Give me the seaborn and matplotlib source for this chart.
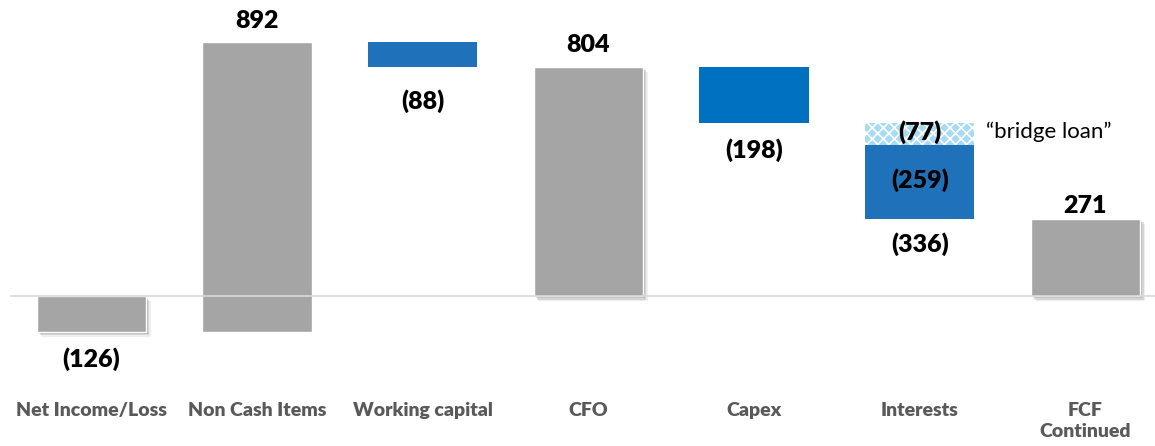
import matplotlib
matplotlib.use("Agg")
import matplotlib.pyplot as plt
import matplotlib.patheffects as pe
import seaborn as sns
import pandas as pd
import numpy as np

# ---- data ----
categories = ["Net Income/Loss", "Non Cash Items", "Working capital", "CFO",
              "Capex", "Interests", "FCF\nContinued"]
net_income = -126
non_cash = 892
working_capital = -88
cfo = 804
capex = -198
interests_bridge = -77
interests_other = -259
interests_total = -336
fcf = 271

# ---- bar geometry from values ----
lows = [net_income, net_income, cfo, 0, cfo + capex,
        cfo + capex + interests_total, 0]
highs = [0, non_cash, non_cash, cfo, cfo,
         cfo + capex + interests_bridge, fcf]
df = pd.DataFrame({"cat": categories, "low": lows,
                   "height": np.array(highs) - np.array(lows)})

sns.set_theme(style="white")
plt.rcParams["font.family"] = ["Lato", "DejaVu Sans"]
plt.rcParams["hatch.linewidth"] = 1.2

fig = plt.figure(figsize=(11.55, 4.46), dpi=100)
ax = fig.add_axes([10 / 1155, 0, 1 - 10 / 1155, 1])

grey = "#A5A5A5"
colors = [grey, grey, "#1F72BA", grey, "#0070C0", "#1F72BA", grey]

sns.barplot(data=df, x="cat", y="height", bottom=df["low"].values,
            order=categories, color=grey, width=0.66, ax=ax,
            saturation=1, zorder=2)
shadow = [pe.SimplePatchShadow(offset=(1.5, -1.5), alpha=0.18),
          pe.SimplePatchShadow(offset=(2.5, -2.5), alpha=0.14),
          pe.SimplePatchShadow(offset=(3.5, -3.5), alpha=0.08),
          pe.Normal()]
for i, p in enumerate(ax.patches):
    p.set_facecolor(colors[i])
    if colors[i] == grey:
        p.set_edgecolor("white")
        p.set_linewidth(1.0)
        if i != 1:
            p.set_path_effects(shadow)
    else:
        p.set_edgecolor("none")

# bridge loan hatched segment
bridge_df = pd.DataFrame({"cat": ["Interests"], "height": [-interests_bridge]})
n_before = len(ax.patches)
sns.barplot(data=bridge_df, x="cat", y="height",
            bottom=[cfo + capex + interests_bridge], order=categories,
            color="#a6dbf3", width=0.66, ax=ax, saturation=1, zorder=2)
for p in ax.patches[n_before:]:
    p.set_facecolor("#a6dbf3")
    p.set_edgecolor("white")
    p.set_hatch("xxx")
    p.set_linewidth(0)

ax.axhline(0, color="#D9D9D9", lw=1.2, zorder=3)

ax.set_xlim(-0.49, 6.42)
ax.set_ylim(-526, 1039)
ax.axis("off")

# ---- labels ----
def fmt(v):
    return f"({abs(v)})" if v < 0 else f"{v}"

lab_kw = dict(ha="center", va="center", fontsize=18, fontweight="heavy",
              color="black", textcoords="offset pixels", zorder=5)
# (x index, value, anchor y, pixel offset)
labels = [
    (0, net_income, net_income, -27),
    (1, non_cash, non_cash, 21),
    (2, working_capital, non_cash + working_capital, -34),
    (3, cfo, cfo, 22),
    (4, capex, cfo + capex, -27),
    (5, interests_bridge, cfo + capex + interests_bridge / 2, 2),
    (5, interests_other, cfo + capex + interests_bridge + interests_other / 2, 2),
    (5, interests_total, cfo + capex + interests_total, -25),
    (6, fcf, fcf, 13),
]
for xi, v, yy, off in labels:
    ax.annotate(fmt(v), xy=(xi, yy), xytext=(0, off), **lab_kw)

ax.annotate("\u201cbridge loan\u201d", xy=(5.40, cfo + capex + interests_bridge / 2),
            xytext=(0, 3), textcoords="offset pixels", ha="left", va="center",
            fontsize=16, color="black")

for i, c in enumerate(categories):
    if "\n" in c:
        ax.text(i, -372, c, ha="center", va="top", fontsize=14,
                fontweight="heavy", color="#595959", linespacing=1.3)
    else:
        ax.text(i, -400, c, ha="center", va="center", fontsize=14,
                fontweight="heavy", color="#595959")

fig.savefig("out.png", dpi=100)
